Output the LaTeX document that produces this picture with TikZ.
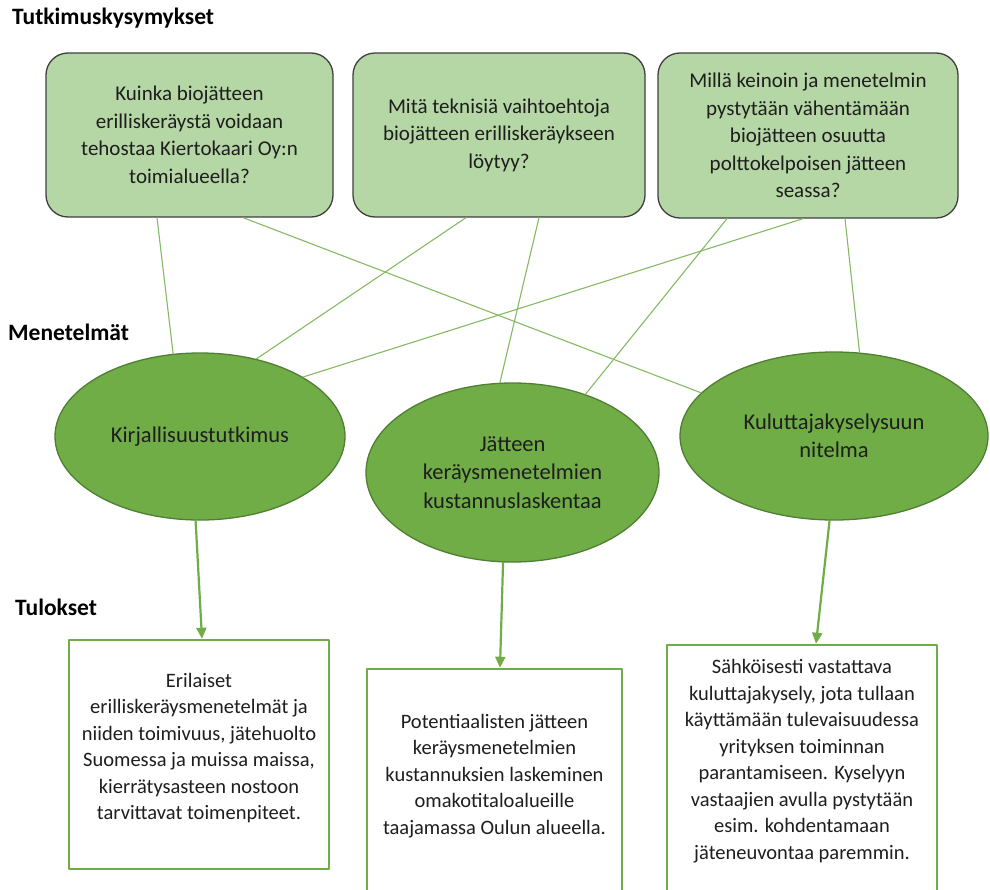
\documentclass[tikz,border=0pt]{standalone}
\usepackage{fontspec}
\setmainfont{Carlito}
\usetikzlibrary{arrows.meta, shapes.geometric}
\definecolor{qfill}{RGB}{181,214,165}
\definecolor{qline}{RGB}{64,64,64}
\definecolor{mfill}{RGB}{112,173,71}
\definecolor{mline}{RGB}{80,126,50}
\definecolor{conn}{RGB}{112,173,71}
\definecolor{txt}{RGB}{30,30,30}
\tikzset{
  >={Triangle[length=11pt, width=10pt]},
  every picture/.style={line cap=round, line join=round},
  heading/.style={anchor=west, inner sep=0pt, font=\fontsize{23.5}{28}\selectfont\bfseries},
  % research questions, methods and results
  question/.style={draw=qline, line width=1.3pt, fill=qfill, rounded corners=22pt,
    align=center, text=txt, font=\fontsize{21}{27.5}\selectfont},
  method/.style={ellipse, draw=mline, line width=1.3pt, fill=mfill, inner sep=0pt,
    align=center, text=txt, font=\fontsize{22.5}{28.5}\selectfont},
  result/.style={draw=conn, line width=2.5pt, fill=white},
  restext/.style={align=center, text=txt, inner sep=0pt, font=\fontsize{20.5}{26.5}\selectfont},
  link/.style={draw=conn!85!white, line width=1.1pt},
  flow/.style={->, draw=conn, line width=2.2pt},
}

\begin{document}
\begin{tikzpicture}[x=1pt, y=-1pt]
  \useasboundingbox (0,0) rectangle (990,889);
  \clip (0,0) rectangle (990,889);
  % headings
  \node[heading] (hq) at (12,18) {Tutkimuskysymykset};
  \node[heading] (hm) at (8,332) {Menetelmät};
  \node[heading] (hr) at (15,607) {Tulokset};
  % questions
  \node[question, minimum width=287pt, minimum height=164pt] (q1) at (189.5,135)
    {Kuinka biojätteen\\ erilliskeräystä voidaan\\ tehostaa Kiertokaari Oy:n\\ toimialueella?};
  \node[question, minimum width=292pt, minimum height=164pt] (q2) at (499,135)
    {Mitä teknisiä vaihtoehtoja\\ biojätteen erilliskeräykseen\\ löytyy?};
  \node[question, minimum width=300pt, minimum height=165pt] (q3) at (808,135.5)
    {Millä keinoin ja menetelmin\\ pystytään vähentämään\\ biojätteen osuutta\\ polttokelpoisen jätteen\\ seassa?};
  % methods
  \node[method, minimum width=290pt, minimum height=167pt] (e1) at (200,436.5) {Kirjallisuustutkimus};
  \node[method, minimum width=293pt, minimum height=179pt] (e2) at (512.5,472.5)
    {Jätteen\\ keräysmenetelmien\\ kustannuslaskentaa};
  \node[method, minimum width=308pt, minimum height=168pt] (e3) at (834,436)
    {Kuluttajakyselysuun\\ nitelma};
  % results
  \node[result, minimum width=260pt, minimum height=229pt] (b1) at (199,754.5) {};
  \node[result, minimum width=255pt, minimum height=231pt] (b2) at (494.5,784.5) {};
  \node[result, minimum width=270pt, minimum height=255pt] (b3) at (802,772.5) {};
  \node[restext] (b1t) at (199,748)
    {Erilaiset\\ erilliskeräysmenetelmät ja\\ niiden toimivuus, jätehuolto\\ Suomessa ja muissa maissa,\\ kierrätysasteen nostoon\\ tarvittavat toimenpiteet.};
  \node[restext] (b2t) at (494.5,776)
    {Potentiaalisten jätteen\\ keräysmenetelmien\\ kustannuksien laskeminen\\ omakotitaloalueille\\ taajamassa Oulun alueella.};
  \node[restext] (b3t) at (802,761)
    {Sähköisesti vastattava\\ kuluttajakysely, jota tullaan\\ käyttämään tulevaisuudessa\\ yrityksen toiminnan\\ parantamiseen. Kyselyyn\\ vastaajien avulla pystytään\\ esim. kohdentamaan\\ jäteneuvontaa paremmin.};
  % question -> method links
  \draw[link] ([xshift=-32.5pt]q1.south) -- (e1.108);
  \draw[link] ([xshift=53.5pt]q1.south) -- (e3.162);
  \draw[link] ([xshift=-33pt]q2.south) -- (e1.54);
  \draw[link] ([xshift=40pt]q2.south) -- (e2.98);
  \draw[link] ([xshift=-81pt]q3.south) -- (e2.47);
  \draw[link] ([xshift=-5pt]q3.south) -- (e1.30);
  \draw[link] ([xshift=37pt]q3.south) -- (e3.73);
  % method -> result
  \draw[flow] (e1.267) -- ([xshift=3pt]b1.north);
  \draw[flow] (e2.264) -- ([xshift=5.5pt]b2.north);
  \draw[flow] (e3.267) -- ([xshift=14pt]b3.north);
\end{tikzpicture}
\end{document}
